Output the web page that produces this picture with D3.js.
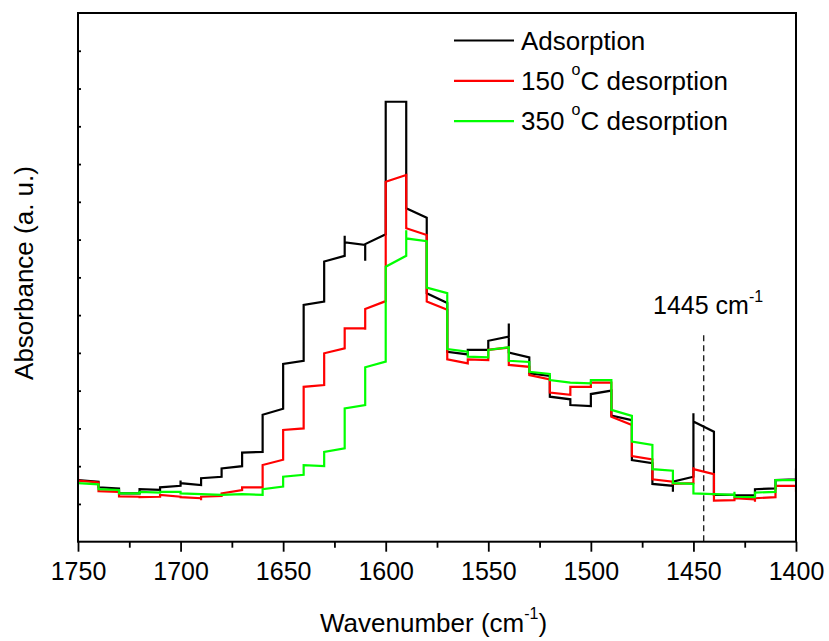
<!DOCTYPE html>
<html>
<head>
<meta charset="utf-8">
<script src="https://cdn.jsdelivr.net/npm/d3@7"></script>
<style>
  body { margin: 0; background: #fff; }
  text { font-family: "Liberation Sans", Arial, sans-serif; fill: #000; }
</style>
</head>
<body>
<div id="chart"></div>
<script>
// wavenumber (cm-1), absorbance (a. u.)
const adsorption = [
  [1750, 0.163], [1740, 0.159], [1740, 0.144], [1730, 0.141], [1730, 0.128], [1720, 0.128],
  [1720, 0.139], [1710, 0.137], [1710, 0.144], [1700, 0.148], [1700, 0.162], [1700, 0.155],
  [1690, 0.150], [1690, 0.168], [1680, 0.172], [1680, 0.194], [1670, 0.200], [1670, 0.236],
  [1660, 0.238], [1660, 0.336], [1650, 0.352], [1650, 0.471], [1640, 0.479], [1640, 0.627],
  [1630, 0.636], [1630, 0.742], [1620, 0.757], [1620, 0.810], [1620, 0.793], [1610, 0.786],
  [1610, 0.744], [1610, 0.788], [1600, 0.814], [1600, 1.165], [1590, 1.165], [1590, 0.883],
  [1580, 0.858], [1580, 0.658], [1570, 0.632], [1570, 0.503], [1560, 0.496], [1560, 0.508],
  [1550, 0.508], [1550, 0.532], [1540, 0.543], [1540, 0.578], [1540, 0.501], [1530, 0.488],
  [1530, 0.446], [1520, 0.439], [1520, 0.384], [1510, 0.377], [1510, 0.362], [1500, 0.359],
  [1500, 0.391], [1490, 0.400], [1490, 0.334], [1480, 0.322], [1480, 0.216], [1470, 0.208],
  [1470, 0.153], [1460, 0.148], [1460, 0.132], [1460, 0.159], [1450, 0.172], [1450, 0.340],
  [1450, 0.318], [1440, 0.291], [1440, 0.124], [1430, 0.124], [1430, 0.123], [1420, 0.123],
  [1420, 0.139], [1410, 0.141], [1410, 0.163], [1400, 0.165], [1400, 0.194]
];

const desorption150 = [
  [1750, 0.190], [1750, 0.162], [1740, 0.157], [1740, 0.134], [1730, 0.132], [1730, 0.120],
  [1720, 0.119], [1720, 0.118], [1710, 0.119], [1710, 0.124], [1700, 0.119], [1700, 0.118],
  [1690, 0.115], [1690, 0.110], [1690, 0.119], [1680, 0.121], [1680, 0.128], [1670, 0.137],
  [1670, 0.144], [1660, 0.144], [1660, 0.203], [1650, 0.217], [1650, 0.296], [1640, 0.300],
  [1640, 0.410], [1630, 0.415], [1630, 0.499], [1620, 0.512], [1620, 0.565], [1610, 0.565],
  [1610, 0.561], [1610, 0.616], [1600, 0.637], [1600, 0.953], [1590, 0.971], [1590, 0.830],
  [1580, 0.812], [1580, 0.636], [1570, 0.614], [1570, 0.483], [1560, 0.472], [1560, 0.483],
  [1550, 0.481], [1550, 0.508], [1540, 0.514], [1540, 0.468], [1530, 0.463], [1530, 0.441],
  [1520, 0.430], [1520, 0.395], [1510, 0.389], [1510, 0.410], [1500, 0.410], [1500, 0.421],
  [1490, 0.421], [1490, 0.331], [1480, 0.309], [1480, 0.227], [1470, 0.218], [1470, 0.165],
  [1460, 0.159], [1460, 0.153], [1450, 0.155], [1450, 0.197], [1450, 0.192], [1440, 0.179],
  [1440, 0.109], [1430, 0.110], [1430, 0.115], [1420, 0.112], [1420, 0.106], [1420, 0.115],
  [1410, 0.118], [1410, 0.148], [1400, 0.148], [1400, 0.132]
];

const desorption350 = [
  [1750, 0.155], [1740, 0.152], [1740, 0.139], [1730, 0.137], [1730, 0.128], [1720, 0.128],
  [1720, 0.132], [1710, 0.130], [1710, 0.132], [1700, 0.132], [1700, 0.128], [1690, 0.126],
  [1680, 0.124], [1670, 0.126], [1660, 0.124], [1660, 0.139], [1650, 0.146], [1650, 0.172],
  [1640, 0.177], [1640, 0.203], [1630, 0.200], [1630, 0.238], [1620, 0.247], [1620, 0.353],
  [1610, 0.362], [1610, 0.462], [1600, 0.477], [1600, 0.728], [1590, 0.757], [1590, 0.825],
  [1590, 0.803], [1580, 0.796], [1580, 0.673], [1570, 0.658], [1570, 0.510], [1560, 0.503],
  [1560, 0.490], [1550, 0.488], [1550, 0.508], [1540, 0.515], [1540, 0.479], [1530, 0.476],
  [1530, 0.450], [1520, 0.444], [1520, 0.428], [1510, 0.421], [1500, 0.419], [1500, 0.428],
  [1490, 0.428], [1490, 0.349], [1480, 0.333], [1480, 0.265], [1470, 0.256], [1470, 0.192],
  [1460, 0.188], [1460, 0.155], [1450, 0.153], [1450, 0.128], [1440, 0.126], [1430, 0.124],
  [1430, 0.132], [1430, 0.119], [1420, 0.118], [1420, 0.130], [1410, 0.132], [1410, 0.163],
  [1400, 0.163], [1400, 0.155]
];

const seriesNames = ['Adsorption', '150 °C desorption', '350 °C desorption'];
const seriesColors = ['#000000', '#ff0000', '#00ff00'];
const majorTicks = [1750, 1700, 1650, 1600, 1550, 1500, 1450, 1400];
const minorTicks = [1725, 1675, 1625, 1575, 1525, 1475, 1425];
const yTicks = [0.1, 0.2, 0.3, 0.4, 0.5, 0.6, 0.7, 0.8, 0.9, 1.0, 1.1, 1.2, 1.3];
const markerWavenumber = 1445;
const markerTop = 0.547;

const width = 829, height = 641;
const margin = { top: 13, right: 33, bottom: 99.3, left: 78 };
const innerW = width - margin.left - margin.right;
const innerH = height - margin.top - margin.bottom;

const svg = d3.select('#chart').append('svg')
  .attr('width', width)
  .attr('height', height);

const g = svg.append('g')
  .attr('transform', `translate(${margin.left},${margin.top})`);

const x = d3.scaleLinear().domain([1750, 1400]).range([0, innerW]);
const y = d3.scaleLinear().domain([0, 1.4]).range([innerH, 0]);

svg.append('defs').append('clipPath').attr('id', 'plot')
  .append('rect').attr('width', innerW).attr('height', innerH);

// x axis, ticks outward
const xAxis = g.append('g').attr('transform', `translate(0,${innerH})`);
xAxis.call(d3.axisBottom(x).tickValues(majorTicks).tickSize(10).tickFormat(d3.format('d')))
  .call(a => a.select('.domain').remove())
  .call(a => a.selectAll('line').attr('stroke-width', 1.8))
  .call(a => a.selectAll('text')
    .attr('font-size', 25).attr('dy', null).attr('y', 38)
    .style('font-family', '"Liberation Sans", Arial, sans-serif'));
g.append('g').attr('transform', `translate(0,${innerH})`)
  .call(d3.axisBottom(x).tickValues(minorTicks).tickSize(6).tickFormat(''))
  .call(a => a.select('.domain').remove())
  .call(a => a.selectAll('line').attr('stroke-width', 1.8));

// y axis, short inward ticks, no labels
g.append('g')
  .call(d3.axisRight(y).tickValues(yTicks).tickSize(3).tickFormat(''))
  .call(a => a.select('.domain').remove())
  .call(a => a.selectAll('line').attr('stroke-width', 1.8));

// dashed marker
g.append('line')
  .attr('x1', x(markerWavenumber)).attr('x2', x(markerWavenumber))
  .attr('y1', y(markerTop)).attr('y2', innerH)
  .attr('stroke', '#222').attr('stroke-width', 1.4)
  .attr('stroke-dasharray', '6,4');

const line = d3.line().x(d => x(d[0])).y(d => y(d[1]));

const plot = g.append('g').attr('clip-path', 'url(#plot)');
[adsorption, desorption150, desorption350].forEach((s, i) => {
  plot.append('path')
    .datum(s)
    .attr('d', line)
    .attr('fill', 'none')
    .attr('stroke', seriesColors[i])
    .attr('stroke-width', 2.2)
    .attr('stroke-linejoin', 'miter');
});

// frame
g.append('rect')
  .attr('width', innerW).attr('height', innerH)
  .attr('fill', 'none').attr('stroke', '#000').attr('stroke-width', 2);

// legend
const legend = g.append('g').attr('transform', `translate(${454 - margin.left},${40.5 - margin.top})`);
seriesNames.forEach((name, i) => {
  const row = legend.append('g').attr('transform', `translate(0,${i * 40.3})`);
  row.append('line').attr('x1', 0).attr('x2', 60)
    .attr('stroke', seriesColors[i]).attr('stroke-width', 2.2);
  const t = row.append('text').attr('x', 67).attr('y', 9).attr('font-size', 26);
  if (i === 0) {
    t.text(name);
  } else {
    const parts = name.split(' °');
    t.append('tspan').text(parts[0] + ' ');
    t.append('tspan').attr('font-size', 16).attr('dy', -15).text('o');
    t.append('tspan').attr('dy', 15).text(parts[1]);
  }
});

// annotation
const ann = g.append('text')
  .attr('x', 653 - margin.left).attr('y', 314 - margin.top)
  .attr('font-size', 25);
ann.append('tspan').text('1445 cm');
ann.append('tspan').attr('font-size', 16).attr('dy', -12).text('-1');

// axis titles
const xt = svg.append('text')
  .attr('x', 320).attr('y', 631.5).attr('font-size', 26);
xt.append('tspan').text('Wavenumber (cm');
xt.append('tspan').attr('font-size', 16).attr('dy', -13).text('-1');
xt.append('tspan').attr('dy', 13).text(')');

svg.append('text')
  .attr('transform', 'translate(33,273) rotate(-90)')
  .attr('text-anchor', 'middle')
  .attr('font-size', 26)
  .text('Absorbance (a. u.)');
</script>
</body>
</html>
